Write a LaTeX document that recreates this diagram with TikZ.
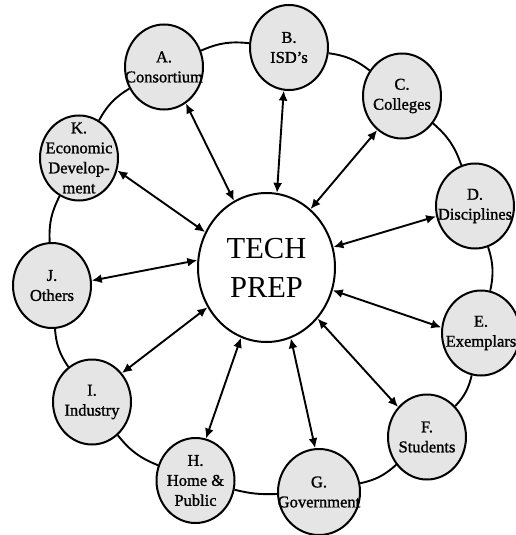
\documentclass[tikz,border=0pt]{standalone}
\usepackage{fontspec}
\setmainfont{Liberation Serif}
\newfontfamily\tagfont[FakeBold=1.2]{Liberation Serif}
\usetikzlibrary{arrows.meta,shapes.geometric}
\begin{document}
\begin{tikzpicture}[x=1pt,y=-1pt,
  member/.style={ellipse,draw,line width=2pt,fill=black!10,
    minimum width=78pt,minimum height=85pt,inner sep=0pt},
  tag/.style={inner sep=0pt,align=center,font=\tagfont\fontsize{16.5}{20}\selectfont},
  hub/.style={ellipse,draw,line width=2pt,fill=white,
    minimum width=137pt,minimum height=149pt,inner sep=0pt,align=center,
    font=\fontsize{30.5}{39}\selectfont},
  ring/.style={line width=1.9pt},
  link/.style={line width=1.9pt,
    {Latex[length=10pt,width=9pt]}-{Latex[length=10pt,width=9pt]}}]
\useasboundingbox (0,0) rectangle (516,535);

% central hub
\node[hub] (T) at (266.5,267.5) {TECH\\PREP};

% partners around the hub
\node[member] (A) at (164,67) {};
\node[member] (B) at (289,47.5) {};
\node[member] (C) at (402,96) {};
\node[member] (D) at (475,206) {};
\node[member] (E) at (481,333) {};
\node[member] (F) at (427,437) {};
\node[member,minimum width=82pt,minimum height=86pt] (G) at (319,492) {};
\node[member] (H) at (195.5,480.5) {};
\node[member] (I) at (92,402) {};
\node[member] (J) at (52,285.5) {};
\node[member] (K) at (79,158) {};

% outer ring
\draw[ring] (A) to[bend left=15] (B);
\draw[ring] (B) to[bend left=15] (C);
\draw[ring] (C) to[bend left=15] (D);
\draw[ring] (D) to[bend left=15] (E);
\draw[ring] (E) to[bend left=15] (F);
\draw[ring] (F) to[bend left=15] (G);
\draw[ring] (G) to[bend left=8] (H);
\draw[ring] (H) to[bend left=15] (I);
\draw[ring] (I) to[bend left=15] (J);
\draw[ring] (J) to[bend left=15] (K);
\draw[ring] (K) to[bend left=15] (A);

% two-way links to the hub
\draw[link] (A.-59.7) -- (T.116.4);
\draw[link] (B.-97) -- (T.82.1);
\draw[link] (C.-126.6) -- (T.53.1);
\draw[link] (D.-165) -- (T.17.5);
\draw[link] (E.172) -- (T.-19.2);
\draw[link] (F.134) -- (T.-45.5);
\draw[link] (G.95.5) -- (T.-71.3);
\draw[link] (H.76) -- (T.-110.6);
\draw[link] (I.44) -- (T.-146.2);
\draw[link] (J.7) -- (T.174.4);
\draw[link] (K.-18.8) -- (T.150);

% labels
\node[tag] (A-t) at (A) {A.\\Consortium};
\node[tag] (B-t) at (B) {B.\\ISD’s};
\node[tag] (C-t) at (C) {C.\\Colleges};
\node[tag] (D-t) at (D) {D.\\Disciplines};
\node[tag] (E-t) at (E) {E.\\Exemplars};
\node[tag] (F-t) at (F) {F.\\Students};
\node[tag] (G-t) at (G) {G.\\Government};
\node[tag] (H-t) at (H) {H.\\Home \&\\Public};
\node[tag] (I-t) at (I) {I.\\Industry};
\node[tag] (J-t) at (J) {J.\\Others};
\node[tag] (K-t) at (K) {K.\\Economic\\Develop-\\ment};
\end{tikzpicture}
\end{document}
